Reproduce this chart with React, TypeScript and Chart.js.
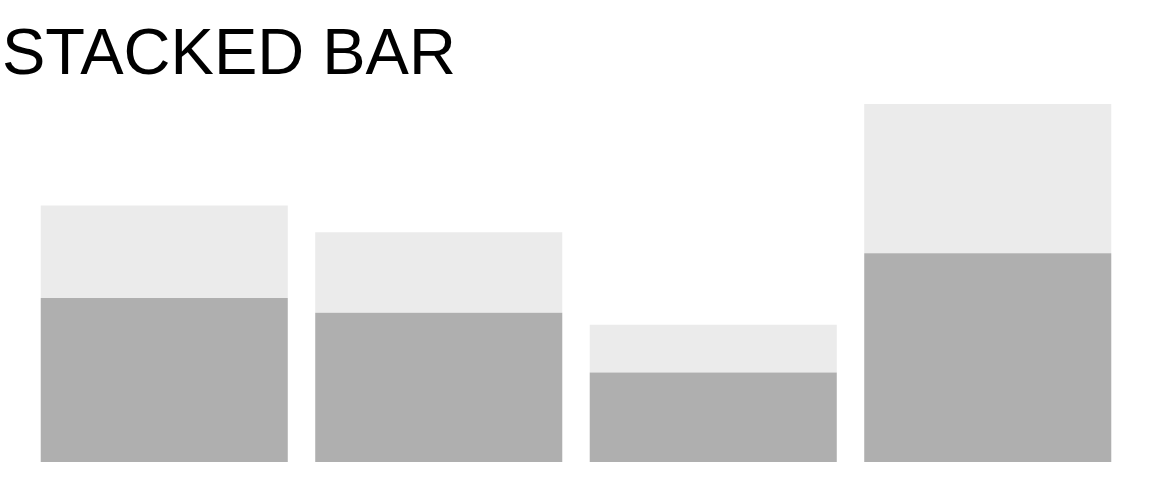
import React, { useRef, useEffect } from 'react';
import { Chart, registerables } from 'chart.js';

Chart.register(...registerables);

const categories = ['A', 'B', 'C', 'D'];
const lowerValues = [55, 50, 30, 70];
const upperValues = [31, 27, 16, 50];
const yMax = 120;

function StackedBar() {
  const canvasRef = useRef<HTMLCanvasElement>(null);
  const chartRef = useRef<Chart | null>(null);

  useEffect(() => {
    if (!canvasRef.current) return;
    const ctx = canvasRef.current.getContext('2d');
    if (!ctx) return;

    if (chartRef.current) {
      chartRef.current.destroy();
    }

    chartRef.current = new Chart(ctx, {
      type: 'bar',
      data: {
        labels: categories,
        datasets: [
          {
            label: 'lower',
            data: lowerValues,
            backgroundColor: '#afafaf',
            borderWidth: 0,
            barPercentage: 0.9,
            categoryPercentage: 1.0
          },
          {
            label: 'upper',
            data: upperValues,
            backgroundColor: '#ebebeb',
            borderWidth: 0,
            barPercentage: 0.9,
            categoryPercentage: 1.0
          }
        ]
      },
      options: {
        responsive: false,
        animation: false,
        layout: {
          padding: { left: 27, right: 27, top: 104, bottom: 18 }
        },
        scales: {
          x: { stacked: true, display: false },
          y: { stacked: true, display: false, min: 0, max: yMax }
        },
        plugins: {
          legend: { display: false },
          tooltip: { enabled: false }
        }
      }
    });

    return () => {
      if (chartRef.current) {
        chartRef.current.destroy();
        chartRef.current = null;
      }
    };
  }, []);

  return (
    <div style={{ position: 'relative', width: 1152, height: 480, overflow: 'hidden' }}>
      <canvas ref={canvasRef} width={1152} height={480} style={{ position: 'absolute', left: 0, top: 0 }} />
      <div
        style={{
          position: 'absolute',
          left: 2,
          top: 19,
          fontFamily: '"Liberation Sans", Arial, sans-serif',
          fontSize: 65,
          lineHeight: '65px',
          color: '#000',
          whiteSpace: 'nowrap'
        }}
      >
        STACKED BAR
      </div>
    </div>
  );
}

export default function App() {
  useEffect(() => {
    document.body.style.margin = '0';
    document.body.style.overflow = 'hidden';
  }, []);
  return <StackedBar />;
}
